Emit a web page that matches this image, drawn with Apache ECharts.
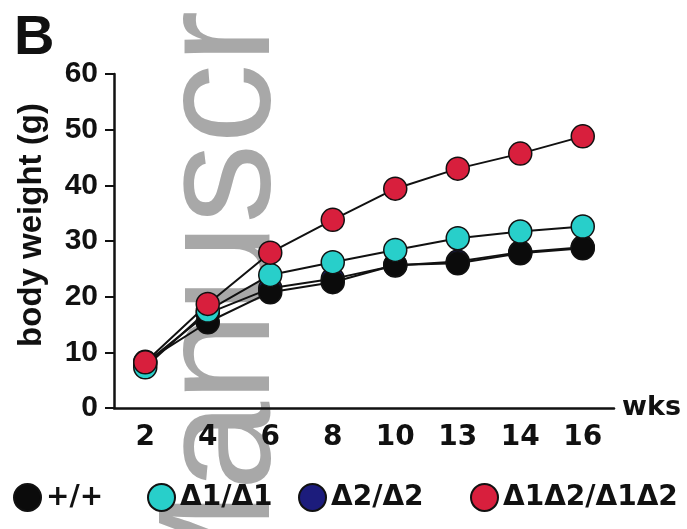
<!DOCTYPE html>
<html>
<head>
<meta charset="utf-8">
<script src="https://cdn.jsdelivr.net/npm/echarts@6.0.0/dist/echarts.min.js"></script>
<style>
  html, body { margin: 0; padding: 0; background: #fff; }
  #chart { width: 687px; height: 529px; }
</style>
</head>
<body>
<div id="chart"></div>
<script>
// weeks of age (x categories; 13 sits where 12 would be)
const weeks = ['2', '4', '6', '8', '10', '13', '14', '16'];

// body weight (g) per genotype
const wildType = [8.3, 15.4, 20.8, 22.6, 25.7, 26.0, 27.8, 28.7];   // +/+
const delta1 = [7.3, 17.5, 23.9, 26.2, 28.4, 30.5, 31.7, 32.6];     // Δ1/Δ1
const delta2 = [8.0, 17.0, 21.5, 23.2, 25.6, 26.3, 28.0, 28.9];     // Δ2/Δ2
const delta12 = [8.2, 18.7, 27.9, 33.8, 39.4, 43.0, 45.7, 48.8];    // Δ1Δ2/Δ1Δ2

const yTicks = [0, 10, 20, 30, 40, 50, 60];

const legendNames = ['+/+', 'Δ1/Δ1', 'Δ2/Δ2', 'Δ1Δ2/Δ1Δ2'];
// left edge of each legend entry (the entries are spaced unevenly)
const legendLeft = [13, 147, 298, 470];

function makeSeries(name, data, fill) {
  return {
    name: name,
    type: 'line',
    data: data,
    symbol: 'circle',
    symbolSize: 23,
    lineStyle: { color: '#111', width: 2 },
    itemStyle: { color: fill, borderColor: '#111', borderWidth: 1.5 },
    emphasis: { disabled: true },
    z: 3
  };
}

const chart = echarts.init(document.getElementById('chart'));

const option = {
  backgroundColor: '#fff',
  animation: false,
  graphic: [
    {
      // gray "Manuscript" watermark behind the plot
      type: 'text',
      x: 225,
      y: 624,
      rotation: Math.PI / 2,
      z: -10,
      silent: true,
      style: {
        text: 'Manuscript',
        fill: '#a8a8a8',
        font: '160px "Liberation Sans", Arial, sans-serif',
        textAlign: 'left',
        textVerticalAlign: 'middle'
      }
    },
    {
      type: 'text',
      left: 14,
      top: 11,
      style: {
        text: 'B',
        fill: '#111',
        font: 'bold 56px "Liberation Sans", Arial, sans-serif'
      }
    }
  ],
  grid: { left: 114, top: 74, width: 500, height: 334, containLabel: false },
  legend: legendNames.map((name, i) => ({
    data: [name],
    left: legendLeft[i],
    top: 483,
    padding: 0,
    icon: 'circle',
    itemWidth: 27,
    itemHeight: 27,
    selectedMode: false,
    textStyle: {
      fontFamily: '"DejaVu Sans", sans-serif',
      fontWeight: 'bold',
      fontSize: 28,
      color: '#111'
    }
  })),
  xAxis: {
    type: 'category',
    data: weeks,
    boundaryGap: true,
    name: 'wks',
    nameLocation: 'end',
    nameGap: 8,
    nameTextStyle: {
      fontFamily: '"DejaVu Sans", sans-serif',
      fontWeight: 'bold',
      fontSize: 27,
      color: '#111',
      padding: [60, 0, 0, 0]
    },
    axisLine: { lineStyle: { color: '#111', width: 2.5 } },
    axisTick: { alignWithLabel: true, length: 9, lineStyle: { color: '#111', width: 2 } },
    axisLabel: {
      margin: 16,
      fontFamily: '"DejaVu Sans", sans-serif',
      fontWeight: 'bold',
      fontSize: 28,
      color: '#111'
    },
    splitLine: { show: false }
  },
  yAxis: {
    type: 'value',
    min: yTicks[0],
    max: yTicks[yTicks.length - 1],
    interval: yTicks[1] - yTicks[0],
    name: 'body weight (g)',
    nameLocation: 'middle',
    nameRotate: 90,
    nameGap: 66,
    nameTextStyle: {
      fontFamily: '"Liberation Sans", Arial, sans-serif',
      fontWeight: 'bold',
      fontSize: 33,
      color: '#111',
      padding: [0, 0, 0, 32]
    },
    axisLine: { show: true, lineStyle: { color: '#111', width: 2.5 } },
    axisTick: { show: true, length: 9, lineStyle: { color: '#111', width: 2 } },
    axisLabel: {
      margin: 16,
      fontFamily: '"Liberation Sans", Arial, sans-serif',
      fontWeight: 'bold',
      fontSize: 30,
      color: '#111'
    },
    splitLine: { show: false }
  },
  // drawing order: Δ2/Δ2 underneath, then +/+, Δ1/Δ1, Δ1Δ2/Δ1Δ2 on top
  series: [
    makeSeries(legendNames[2], delta2, '#1c1c7c'),
    makeSeries(legendNames[0], wildType, '#0b0b0b'),
    makeSeries(legendNames[1], delta1, '#28cfca'),
    makeSeries(legendNames[3], delta12, '#d81f3d')
  ]
};

chart.setOption(option);
window.addEventListener('resize', () => {
  chart.resize();
});
</script>
</body>
</html>
